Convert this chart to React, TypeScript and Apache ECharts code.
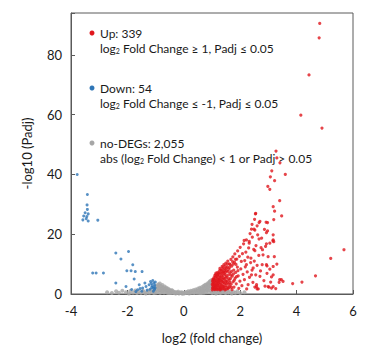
import React, { useEffect, useRef } from "react";
import * as echarts from "echarts";

const xTicks = [-4, -2, 0, 2, 4, 6];
const yTicks = [0, 20, 40, 60, 80];

const upLabel = "Up: 339";
const upRule = "log{s|2} Fold Change ≥ 1, Padj ≤ 0.05";
const downLabel = "Down: 54";
const downRule = "log{s|2} Fold Change ≤ -1, Padj ≤ 0.05";
const noLabel = "no-DEGs: 2,055";
const noRule = "abs (log{s|2} Fold Change) < 1 or Padj > 0.05";

const upPoints: number[][] = [
  [4.82, 90.5], [4.80, 85.7], [4.44, 73.3], [4.15, 59.8], [4.90, 55.5], [5.68, 14.8], [5.21, 11.9], [4.67, 6.1], [4.19, 4.0], [3.86, 3.5],
  [3.27, 47.8], [3.41, 43.9], [3.30, 45.5], [3.60, 40.0], [3.12, 41.2], [3.07, 39.2], [3.22, 37.9], [2.98, 36.0], [3.05, 35.0], [3.40, 31.2],
  [3.17, 29.2], [3.22, 27.7], [3.47, 26.1], [2.55, 27.0], [2.51, 25.0], [2.70, 24.3], [2.42, 23.3], [2.60, 22.8], [2.40, 21.7], [2.52, 21.4],
  [2.93, 20.5], [2.22, 18.1], [2.32, 17.6], [2.76, 18.7], [3.17, 19.8], [3.19, 17.5], [2.92, 24.0], [3.19, 24.9], [2.67, 23.9], [2.49, 21.7],
  [2.93, 16.8], [2.97, 21.1], [3.17, 18.1], [2.99, 12.5], [2.95, 9.4], [3.05, 8.3], [3.11, 5.7], [2.99, 2.5], [3.17, 2.5], [2.58, 2.5],
  [2.60, 1.7], [2.70, 5.9], [3.46, 4.8], [3.40, 4.8], [3.17, 9.2],
  [1.01, 1.4], [1.02, 2.1], [1.03, 2.9], [1.04, 3.6], [1.02, 4.3], [1.06, 5.0], [1.05, 1.8], [1.07, 2.6], [1.08, 3.3], [1.09, 4.1],
  [1.06, 4.8], [1.10, 1.5], [1.11, 2.3], [1.12, 5.6], [1.10, 6.2], [1.13, 3.0], [1.14, 3.9], [1.15, 4.6], [1.16, 1.6], [1.17, 2.5],
  [1.18, 5.4], [1.19, 6.3], [1.20, 7.2], [1.21, 3.4], [1.22, 4.2], [1.23, 1.9], [1.24, 2.8], [1.25, 5.0], [1.26, 6.0], [1.27, 7.8],
  [1.28, 8.6], [1.29, 3.7], [1.30, 4.5], [1.30, 2.2], [1.28, 1.4], [1.32, 6.8], [1.33, 5.4], [1.34, 3.0], [1.35, 8.1], [1.36, 9.2],
  [1.37, 1.7], [1.38, 4.0], [1.39, 6.2], [1.40, 7.4], [1.41, 2.5], [1.42, 9.8], [1.43, 5.0], [1.44, 3.4], [1.45, 8.5], [1.46, 1.4],
  [1.47, 6.6], [1.48, 4.4], [1.49, 10.3], [1.50, 2.9], [1.52, 7.7], [1.53, 5.6], [1.54, 9.0], [1.55, 3.8], [1.56, 11.0], [1.57, 1.8],
  [1.58, 6.4], [1.60, 8.3], [1.61, 4.6], [1.62, 10.1], [1.63, 2.6], [1.64, 7.1], [1.66, 5.2], [1.67, 11.6], [1.68, 3.3], [1.70, 9.3],
  [1.71, 1.5], [1.72, 6.0], [1.74, 12.4], [1.75, 4.1], [1.77, 8.0], [1.78, 2.3], [1.80, 10.6], [1.81, 13.4], [1.82, 5.3], [1.84, 7.2],
  [1.86, 3.4], [1.88, 11.7], [1.90, 9.0], [1.91, 14.4], [1.93, 6.1], [1.95, 1.9], [1.97, 12.6], [1.99, 4.3], [2.00, 15.6], [2.02, 8.4],
  [2.04, 10.9], [2.06, 2.8], [2.08, 13.5], [2.10, 6.6], [2.12, 16.8], [2.14, 17.9], [2.15, 4.8], [2.16, 11.2], [2.18, 9.1], [2.20, 14.0],
  [2.22, 9.8], [2.23, 1.7], [2.25, 7.4], [2.27, 12.3], [2.28, 3.1], [2.30, 15.4], [2.32, 17.0], [2.33, 5.6], [2.35, 20.2], [2.37, 10.5],
  [2.38, 12.0], [2.40, 6.4], [2.42, 8.0], [2.43, 19.0], [2.45, 3.9], [2.46, 8.7], [2.48, 14.9], [2.50, 11.0], [2.52, 14.5], [2.52, 2.3],
  [2.54, 26.8], [2.55, 6.4], [2.56, 16.2], [2.58, 3.1], [2.60, 9.6], [2.62, 19.8], [2.64, 1.7], [2.66, 12.9], [2.67, 18.4], [2.72, 7.7],
  [2.74, 15.5], [2.78, 9.8], [2.79, 14.8], [2.81, 13.1], [2.84, 4.5], [2.86, 21.6], [2.88, 2.6], [2.90, 15.9], [2.93, 9.8], [2.95, 6.9],
  [2.97, 23.9], [3.02, 2.3], [3.05, 17.0], [3.08, 4.0], [3.11, 2.0], [3.16, 17.8], [3.17, 6.4], [3.21, 12.5], [3.26, 1.8], [3.30, 10.0],
  [3.38, 3.9], [3.52, 4.2],
  [1.14, 7.0], [1.22, 6.6], [1.31, 1.5], [1.36, 4.8], [1.44, 7.9], [1.51, 1.6], [1.59, 3.3], [1.69, 7.6], [1.76, 10.0], [1.85, 9.9],
  [1.01, 3.2], [1.03, 4.9], [1.04, 1.9], [1.05, 3.9], [1.07, 5.5], [1.08, 1.6], [1.09, 2.9], [1.11, 4.6], [1.12, 1.9], [1.13, 6.5],
  [1.15, 2.1], [1.16, 3.3], [1.17, 5.9], [1.18, 4.1], [1.19, 1.5], [1.20, 2.9], [1.21, 5.0], [1.23, 6.9], [1.24, 3.8], [1.25, 1.6],
  [1.26, 4.6], [1.27, 2.4], [1.28, 5.6], [1.29, 7.1], [1.31, 3.2], [1.32, 8.0], [1.33, 2.0], [1.34, 6.1], [1.35, 4.3], [1.37, 7.2],
  [1.38, 2.6], [1.39, 8.8], [1.40, 5.4], [1.41, 3.9], [1.42, 1.8], [1.43, 6.9], [1.45, 2.3], [1.46, 5.3], [1.47, 9.4], [1.48, 7.4],
  [1.49, 3.6], [1.50, 6.0], [1.51, 8.6], [1.52, 4.4], [1.54, 2.2], [1.55, 10.0], [1.57, 7.6], [1.59, 5.1], [1.60, 2.1], [1.62, 8.9],
  [1.64, 3.9], [1.65, 9.8], [1.67, 6.3], [1.69, 2.2], [1.73, 10.8], [1.76, 6.7], [1.79, 4.6], [1.83, 11.6], [1.87, 5.8], [1.92, 7.8],
];

const downPoints: number[][] = [
  [-3.78, 40.0], [-3.42, 33.3], [-3.43, 29.8], [-3.42, 28.3], [-3.50, 27.2], [-3.39, 26.8], [-3.55, 26.1], [-3.44, 25.9], [-3.58, 24.8], [-3.39, 24.4],
  [-3.05, 24.7], [-3.46, 25.2], [-2.41, 13.7], [-2.23, 11.7], [-1.96, 14.2], [-1.81, 9.8], [-3.23, 7.0], [-3.11, 7.0], [-2.85, 7.0], [-2.02, 7.8],
  [-1.87, 7.8], [-1.72, 7.5], [-1.48, 7.5], [-1.76, 5.0], [-2.41, 3.7], [-2.05, 2.5], [-1.58, 3.1], [-1.64, 1.4], [-1.46, 2.0], [-1.34, 2.5],
  [-1.23, 3.1], [-1.38, 3.7], [-1.18, 4.2], [-1.06, 3.7], [-1.02, 2.0], [-1.49, 0.9], [-1.08, 0.9], [-1.12, 2.8], [-1.04, 1.5], [-1.10, 4.5],
  [-1.15, 3.5], [-1.03, 3.0], [-1.20, 1.6], [-1.55, 1.8], [-1.70, 0.8], [-1.85, 1.5], [-1.30, 1.3], [-1.05, 2.4], [-1.09, 1.9], [-1.01, 4.0],
  [-1.14, 2.2],
];

const grayPoints: number[][] = [
  [-2.72, 0.6], [-2.55, 0.3], [-2.40, 0.9], [-2.30, 0.4], [-2.18, 1.1], [-2.05, 0.6], [-1.95, 0.2], [-1.90, 1.0], [-1.80, 0.5], [-1.72, 1.2],
  [-1.66, 0.3], [-1.60, 0.8], [-1.52, 0.4], [-1.45, 1.1], [-1.40, 0.6], [-1.35, 0.2], [-1.28, 0.9], [-1.22, 0.4], [-1.17, 1.2], [-1.12, 0.7],
  [-1.06, 0.3], [-1.02, 1.1], [-0.99, 0.5], [-0.97, 1.6], [-0.95, 2.6], [-0.93, 0.9], [-0.91, 3.2], [-0.89, 2.0], [-0.87, 1.2], [-0.85, 3.5],
  [-0.84, 0.4], [-0.82, 2.7], [-0.80, 1.7], [-0.78, 0.8], [-0.76, 3.0], [-0.74, 2.2], [-0.72, 1.3], [-0.70, 0.5], [-0.68, 2.5], [-0.66, 1.8],
  [-0.64, 0.9], [-0.62, 2.1], [-0.60, 1.4], [-0.58, 0.4], [-0.56, 1.8], [-0.54, 1.0], [-0.52, 1.5], [-0.50, 0.6], [-0.48, 1.2], [-0.46, 0.3],
  [-0.44, 0.9], [-0.42, 1.3], [-0.40, 0.5], [-0.38, 0.9], [-0.35, 0.3], [-0.32, 0.7], [-0.29, 0.2], [-0.26, 0.6], [-0.23, 0.4], [-0.20, 0.8],
  [-0.17, 0.2], [-0.14, 0.5], [-0.11, 0.3], [-0.08, 0.6], [-0.05, 0.1], [-0.02, 0.4], [0.01, 0.2], [0.04, 0.5], [0.07, 0.3], [0.10, 0.7],
  [0.13, 0.4], [0.16, 0.9], [0.19, 0.2], [0.22, 0.7], [0.25, 1.1], [0.28, 0.4], [0.31, 0.9], [0.34, 1.3], [0.37, 0.3], [0.40, 0.8],
  [0.42, 1.5], [0.45, 1.1], [0.47, 0.4], [0.50, 1.8], [0.52, 0.9], [0.55, 1.4], [0.57, 2.1], [0.59, 0.5], [0.62, 1.2], [0.64, 2.3],
  [0.66, 1.7], [0.68, 0.7], [0.70, 2.7], [0.72, 1.3], [0.74, 2.0], [0.76, 3.1], [0.78, 0.6], [0.80, 2.5], [0.82, 1.5], [0.84, 3.5],
  [0.86, 0.9], [0.88, 2.9], [0.90, 3.9], [0.91, 1.9], [0.93, 4.3], [0.94, 1.0], [0.95, 3.2], [0.97, 2.3], [0.98, 4.6], [0.99, 0.5],
  [0.96, 3.8], [0.87, 2.2], [0.79, 1.2], [0.71, 0.4], [0.63, 0.3], [0.55, 0.3], [1.02, 0.4], [1.06, 1.0], [1.10, 0.7], [1.14, 0.2],
  [1.18, 1.1], [1.22, 0.5], [1.26, 0.9], [1.30, 0.3], [1.34, 1.2], [1.38, 0.6], [1.43, 0.9], [1.48, 0.3], [1.53, 1.0], [1.58, 0.5],
  [1.64, 0.8], [1.70, 0.2], [1.76, 0.7], [1.83, 0.4], [1.90, 0.9], [2.00, 0.3], [2.15, 0.6],
  [-0.92, 2.3], [-0.88, 2.9], [-0.83, 1.5], [-0.79, 2.4], [-0.75, 1.0], [-0.71, 1.9], [-0.67, 1.2], [-0.63, 1.6], [-0.57, 1.2], [-0.53, 0.3],
  [0.60, 1.7], [0.67, 1.1], [0.73, 2.6], [0.77, 1.8], [0.81, 3.0], [0.83, 2.1], [0.85, 1.3], [0.89, 3.4], [0.92, 2.7], [0.97, 4.1],
];

const FONT = "Lato, 'Open Sans', sans-serif";

function legendItem(y: number, color: string, label: string, rule: string) {
  return [
    { type: "circle", shape: { cx: 92, cy: y, r: 2.5 }, style: { fill: color } },
    {
      type: "text",
      style: { x: 100, y, text: label, fill: "#1a1a1a", fontSize: 12, fontFamily: FONT, verticalAlign: "middle" },
    },
    {
      type: "text",
      style: {
        x: 100,
        y: y + 15,
        text: rule,
        fill: "#1a1a1a",
        fontSize: 12,
        fontFamily: FONT,
        verticalAlign: "middle",
        rich: {
          s: { fontSize: 7, lineHeight: 7, verticalAlign: "bottom", fontFamily: FONT, fill: "#1a1a1a" },
        },
      },
    },
  ];
}

export default function App() {
  const ref = useRef<HTMLDivElement>(null);
  useEffect(() => {
    if (!ref.current) return;
    const chart = echarts.init(ref.current, undefined, { renderer: "svg" });
    const axisColor = "#5a5a5a";
    chart.setOption({
      animation: false,
      backgroundColor: "#ffffff",
      grid: { left: 71, right: 22, top: 13, bottom: 58, show: true, borderColor: axisColor, borderWidth: 1 },
      xAxis: {
        type: "value",
        min: xTicks[0],
        max: xTicks[xTicks.length - 1],
        interval: 2,
        name: "log2 (fold change)",
        nameLocation: "middle",
        nameGap: 37,
        nameTextStyle: { fontSize: 13, fontFamily: FONT, color: "#1a1a1a" },
        axisLine: { show: true, onZero: false, lineStyle: { color: axisColor } },
        axisTick: { show: true, inside: true, length: 4, lineStyle: { color: axisColor } },
        axisLabel: { fontSize: 13, fontFamily: FONT, color: "#1a1a1a", margin: 10 },
        splitLine: { show: false },
      },
      yAxis: {
        type: "value",
        min: yTicks[0],
        max: 94,
        interval: 20,
        name: "-log10 (Padj)",
        nameLocation: "middle",
        nameGap: 38,
        nameTextStyle: { fontSize: 13, fontFamily: FONT, color: "#1a1a1a" },
        axisLine: { show: true, onZero: false, lineStyle: { color: axisColor } },
        axisTick: { show: true, inside: true, length: 4, lineStyle: { color: axisColor } },
        axisLabel: {
          fontSize: 13,
          fontFamily: FONT,
          color: "#1a1a1a",
          margin: 9,
          formatter: (v: number) => (yTicks.indexOf(v) >= 0 ? String(v) : ""),
        },
        splitLine: { show: false },
      },
      series: [
        { type: "scatter", name: "no-DEGs", data: grayPoints, symbolSize: 4, itemStyle: { color: "#a6a6a6" } },
        { type: "scatter", name: "Down", data: downPoints, symbolSize: 3, itemStyle: { color: "#2e75b6" } },
        { type: "scatter", name: "Up", data: upPoints, symbolSize: 3.2, itemStyle: { color: "#e0171d" } },
      ],
      graphic: [
        ...legendItem(33, "#e0171d", upLabel, upRule),
        ...legendItem(88, "#2e75b6", downLabel, downRule),
        ...legendItem(143, "#a6a6a6", noLabel, noRule),
      ],
    });
    return () => chart.dispose();
  }, []);
  return <div ref={ref} style={{ position: "fixed", left: 0, top: 0, width: 375, height: 352 }} />;
}
